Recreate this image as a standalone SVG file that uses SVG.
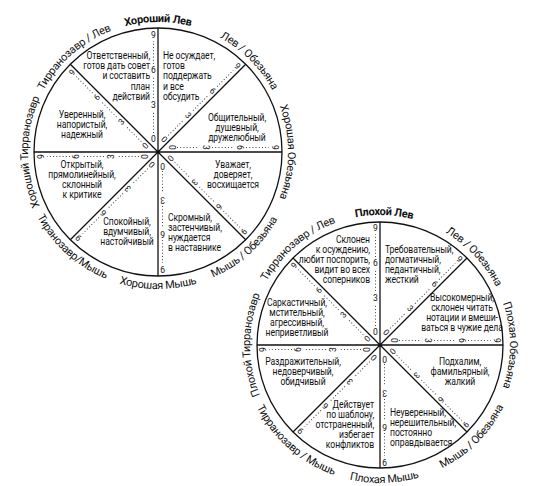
<svg xmlns="http://www.w3.org/2000/svg" xmlns:xlink="http://www.w3.org/1999/xlink" width="536" height="486" viewBox="0 0 536 486">
<style>
.ln{stroke:#111;stroke-width:1.3;fill:none}
.dt{stroke:#444;stroke-width:1;stroke-dasharray:1 2.2;fill:none}
text{font-family:Roboto,"Liberation Sans",sans-serif;fill:#111}
.n{font-size:8.5px;text-anchor:middle;dominant-baseline:central}
.t{font-size:10.5px;letter-spacing:-0.1px}
.o{font-size:11px;letter-spacing:-0.3px}
.b{font-weight:bold}
.m{text-anchor:middle}
.e{text-anchor:end}
</style>
<defs>
<g id="sc">
<path class="dt" d="M-4.5,-19V-41M-4.5,-54V-76M-4.5,-88V-111"/>
<text class="n" x="-4.5" y="-13.5">0</text>
<text class="n" x="-4.5" y="-47.5">3</text>
<text class="n" x="-4.5" y="-82">6</text>
<text class="n" x="-4.5" y="-117">9</text>
</g>
<path id="cw1" d="M158,282 A130,130 0 1,1 158,22 A130,130 0 1,1 158,282"/>
<path id="ccw1" d="M158,15 A137,137 0 1,0 158,289 A137,137 0 1,0 158,15"/>
<path id="cw2" d="M380,475 A130,130 0 1,1 380,215 A130,130 0 1,1 380,475"/>
<path id="ccw2" d="M380,207 A138,138 0 1,0 380,483 A138,138 0 1,0 380,207"/>
</defs>

<g id="wheel-good">
<g id="good-connectors">
<circle class="ln" cx="158" cy="152" r="124"/>
<path class="ln" d="M158,28V276M34,152H282M70.3,64.3L245.7,239.7M245.7,64.3L70.3,239.7"/>
<use xlink:href="#sc" transform="translate(158,152)"/>
<use xlink:href="#sc" transform="translate(158,152) rotate(45)"/>
<use xlink:href="#sc" transform="translate(158,152) rotate(90)"/>
<use xlink:href="#sc" transform="translate(158,152) rotate(135)"/>
<use xlink:href="#sc" transform="translate(158,152) rotate(180)"/>
<use xlink:href="#sc" transform="translate(158,152) rotate(225)"/>
<use xlink:href="#sc" transform="translate(158,152) rotate(270)"/>
<use xlink:href="#sc" transform="translate(158,152) rotate(315)"/>
</g>
<g id="good-labels">
<text class="o b"><textPath xlink:href="#cw1" startOffset="50%" text-anchor="middle">Хороший Лев</textPath></text>
<text class="o"><textPath xlink:href="#cw1" startOffset="62.5%" text-anchor="middle">Лев / Обезьяна</textPath></text>
<text class="o"><textPath xlink:href="#cw1" startOffset="75%" text-anchor="middle">Хорошая Обезьяна</textPath></text>
<text class="o"><textPath xlink:href="#cw1" startOffset="25%" text-anchor="middle">Хороший Тирранозавр</textPath></text>
<text class="o"><textPath xlink:href="#cw1" startOffset="38.5%" text-anchor="middle">Тирранозавр / Лев</textPath></text>
<text class="o"><textPath xlink:href="#ccw1" startOffset="50%" text-anchor="middle">Хорошая Мышь</textPath></text>
<text class="o"><textPath xlink:href="#ccw1" startOffset="61.7%" text-anchor="middle">Мышь / Обезьяна</textPath></text>
<text class="o"><textPath xlink:href="#ccw1" startOffset="38.3%" text-anchor="middle">Тиранозавр/Мышь</textPath></text>
</g>
<g id="good-1"><text class="t e" transform="matrix(0.82,0,0,1,27,0)"><tspan x="150" y="59">Ответственный,</tspan><tspan x="150" dy="10.2">готов дать совет</tspan><tspan x="150" dy="10.2">и составить</tspan><tspan x="150" dy="10.2">план</tspan><tspan x="150" dy="10.2">действий</tspan></text></g>
<g id="good-2"><text class="t" transform="matrix(0.82,0,0,1,29.34,0)"><tspan x="163" y="59">Не осуждает,</tspan><tspan x="163" dy="10.2">готов</tspan><tspan x="163" dy="10.2">поддержать</tspan><tspan x="163" dy="10.2">и все</tspan><tspan x="163" dy="10.2">обсудить</tspan></text></g>
<g id="good-3"><text class="t m" transform="matrix(0.82,0,0,1,42.66,0)"><tspan x="237" y="121.5">Общительный,</tspan><tspan x="237" dy="9.8">душевный,</tspan><tspan x="237" dy="9.8">дружелюбный</tspan></text></g>
<g id="good-4"><text class="t m" transform="matrix(0.82,0,0,1,14.76,0)"><tspan x="82" y="118.5">Уверенный,</tspan><tspan x="82" dy="9.6">напористый,</tspan><tspan x="82" dy="9.6">надежный</tspan></text></g>
<g id="good-5"><text class="t m" transform="matrix(0.82,0,0,1,14.76,0)"><tspan x="82" y="168.5">Открытый,</tspan><tspan x="82" dy="10">прямолинейный,</tspan><tspan x="82" dy="10">склонный</tspan><tspan x="82" dy="10">к критике</tspan></text></g>
<g id="good-6"><text class="t m" transform="matrix(0.82,0,0,1,22.86,0)"><tspan x="127" y="225.5">Спокойный,</tspan><tspan x="127" dy="10">вдумчивый,</tspan><tspan x="127" dy="10">настойчивый</tspan></text></g>
<g id="good-7"><text class="t" transform="matrix(0.82,0,0,1,30.24,0)"><tspan x="168" y="221.5">Скромный,</tspan><tspan x="168" dy="10">застенчивый,</tspan><tspan x="168" dy="10">нуждается</tspan><tspan x="168" dy="10">в наставнике</tspan></text></g>
<g id="good-8"><text class="t m" transform="matrix(0.82,0,0,1,41.94,0)"><tspan x="233" y="168.5">Уважает,</tspan><tspan x="233" dy="9.6">доверяет,</tspan><tspan x="233" dy="9.6">восхищается</tspan></text></g>
</g>

<g id="wheel-bad">
<g id="bad-connectors">
<circle class="ln" cx="380" cy="345" r="123"/>
<path class="ln" d="M380,222V468M257,345H503M293,258L467,432M467,258L293,432"/>
<use xlink:href="#sc" transform="translate(380,345)"/>
<use xlink:href="#sc" transform="translate(380,345) rotate(45)"/>
<use xlink:href="#sc" transform="translate(380,345) rotate(90)"/>
<use xlink:href="#sc" transform="translate(380,345) rotate(135)"/>
<use xlink:href="#sc" transform="translate(380,345) rotate(180)"/>
<use xlink:href="#sc" transform="translate(380,345) rotate(225)"/>
<use xlink:href="#sc" transform="translate(380,345) rotate(270)"/>
<use xlink:href="#sc" transform="translate(380,345) rotate(315)"/>
</g>
<g id="bad-labels">
<text class="o b"><textPath xlink:href="#cw2" startOffset="50.5%" text-anchor="middle">Плохой Лев</textPath></text>
<text class="o"><textPath xlink:href="#cw2" startOffset="63%" text-anchor="middle">Лев / Обезьяна</textPath></text>
<text class="o"><textPath xlink:href="#cw2" startOffset="75%" text-anchor="middle">Плохая Обезьяна</textPath></text>
<text class="o"><textPath xlink:href="#cw2" startOffset="25%" text-anchor="middle">Плохой Тирранозавр</textPath></text>
<text class="o"><textPath xlink:href="#cw2" startOffset="38.8%" text-anchor="middle">Тирранозавр / Лев</textPath></text>
<text class="o"><textPath xlink:href="#ccw2" startOffset="50.5%" text-anchor="middle">Плохая Мышь</textPath></text>
<text class="o"><textPath xlink:href="#ccw2" startOffset="62.5%" text-anchor="middle">Мышь / Обезьяна</textPath></text>
<text class="o"><textPath xlink:href="#ccw2" startOffset="38.5%" text-anchor="middle">Тирранозавр / Мышь</textPath></text>
</g>
<g id="bad-1"><text class="t e" transform="matrix(0.82,0,0,1,66.6,0)"><tspan x="370" y="243.5">Склонен</tspan><tspan x="370" dy="10">к осуждению,</tspan><tspan x="370" dy="10">любит поспорить,</tspan><tspan x="370" dy="10">видит во всех</tspan><tspan x="370" dy="10">соперников</tspan></text></g>
<g id="bad-2"><text class="t" transform="matrix(0.82,0,0,1,69.3,0)"><tspan x="385" y="253.5">Требовательный,</tspan><tspan x="385" dy="10">догматичный,</tspan><tspan x="385" dy="10">педантичный,</tspan><tspan x="385" dy="10">жесткий</tspan></text></g>
<g id="bad-3"><text class="t m" transform="matrix(0.82,0,0,1,83.16,0)"><tspan x="462" y="301.5">Высокомерный,</tspan><tspan x="462" dy="10">склонен читать</tspan><tspan x="462" dy="10">нотации и вмеши-</tspan><tspan x="462" dy="10">ваться в чужие дела</tspan></text></g>
<g id="bad-4"><text class="t m" transform="matrix(0.82,0,0,1,53.46,0)"><tspan x="297" y="306.5">Саркастичный,</tspan><tspan x="297" dy="10">мстительный,</tspan><tspan x="297" dy="10">агрессивный,</tspan><tspan x="297" dy="10">неприветливый</tspan></text></g>
<g id="bad-5"><text class="t m" transform="matrix(0.82,0,0,1,54.54,0)"><tspan x="303" y="365.5">Раздражительный,</tspan><tspan x="303" dy="10">недоверчивый,</tspan><tspan x="303" dy="10">обидчивый</tspan></text></g>
<g id="bad-6"><text class="t e" transform="matrix(0.82,0,0,1,67.32,0)"><tspan x="374" y="408.5">Действует</tspan><tspan x="374" dy="10">по шаблону,</tspan><tspan x="374" dy="10">отстраненный,</tspan><tspan x="374" dy="10">избегает</tspan><tspan x="374" dy="10">конфликтов</tspan></text></g>
<g id="bad-7"><text class="t" transform="matrix(0.82,0,0,1,70.2,0)"><tspan x="390" y="416.5">Неуверенный,</tspan><tspan x="390" dy="10">нерешительный,</tspan><tspan x="390" dy="10">постоянно</tspan><tspan x="390" dy="10">оправдывается</tspan></text></g>
<g id="bad-8"><text class="t m" transform="matrix(0.82,0,0,1,82.8,0)"><tspan x="460" y="365.5">Подхалим,</tspan><tspan x="460" dy="10">фамильярный,</tspan><tspan x="460" dy="10">жалкий</tspan></text></g>
</g>
</svg>
